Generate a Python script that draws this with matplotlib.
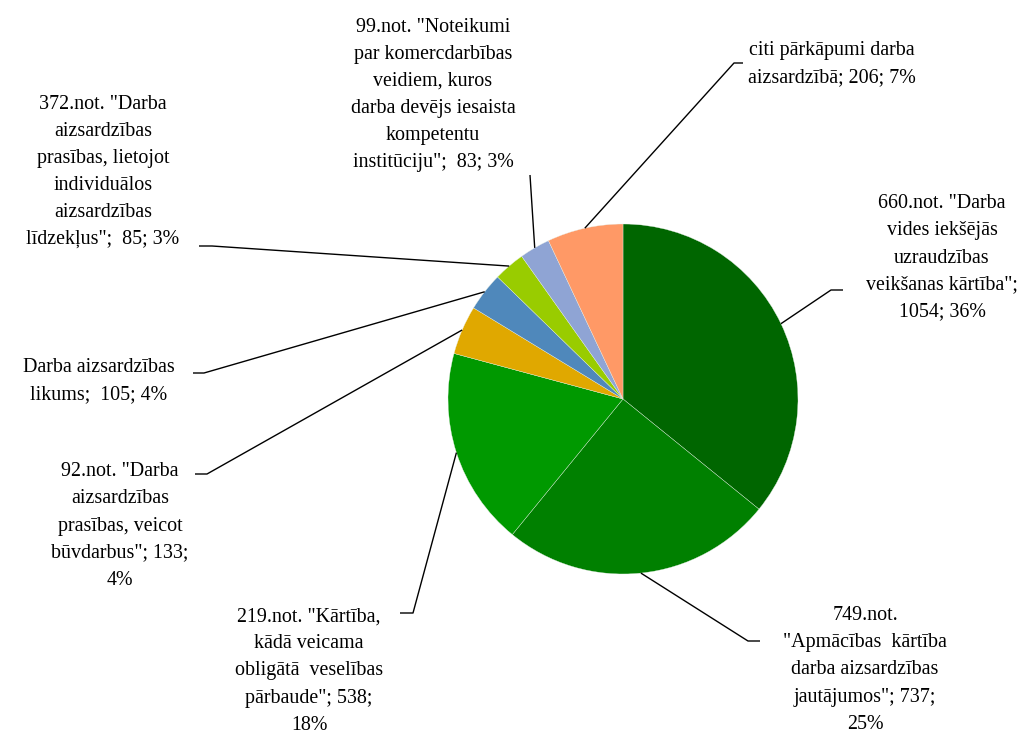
import matplotlib
matplotlib.use("Agg")
import matplotlib.pyplot as plt
import numpy as np

# ---- data ----
labels = [
    '660.not. "Darba\nvides iekšējās\nuzraudzības\nveikšanas kārtība";\n1054; 36%',
    '749.not.\n"Apmācības  kārtība\ndarba aizsardzības\njautājumos"; 737;\n25%',
    '219.not. "Kārtība,\nkādā veicama\nobligātā  veselības\npārbaude"; 538;\n18%',
    '92.not. "Darba\naizsardzības\nprasības, veicot\nbūvdarbus"; 133;\n4%',
    'Darba aizsardzības\nlikums;  105; 4%',
    '372.not. "Darba\naizsardzības\nprasības, lietojot\nindividuālos\naizsardzības\nlīdzekļus";  85; 3%',
    '99.not. "Noteikumi\npar komercdarbības\nveidiem, kuros\ndarba devējs iesaista\nkompetentu\ninstitūciju";  83; 3%',
    'citi pārkāpumi darba\naizsardzībā; 206; 7%',
]
values = [1054, 737, 538, 133, 105, 85, 83, 206]
colors = ['#006600', '#008000', '#009900', '#E0A800', '#4F88BB',
          '#99CC00', '#8FA4D4', '#FF9966']

W, H = 1035, 735
fig = plt.figure(figsize=(W / 100, H / 100), dpi=100)
ax = fig.add_axes([0, 0, 1, 1])

def Y(py):
    return H - py

cx, cy, r = 623, Y(399), 175
wedges, _ = ax.pie(values, colors=colors, startangle=90, counterclock=False,
                   center=(cx, cy), radius=r, frame=True,
                   wedgeprops=dict(edgecolor='#e8f0e8', linewidth=0.25))
ax.set_xlim(0, W)
ax.set_ylim(0, H)
ax.set_aspect('equal')
ax.axis('off')

# layout: text center (px), leader elbow (px), leader end (px)
layout = [
    ((942, 258), (831, 290), (843, 290)),
    ((865, 670), (748, 641), (760, 641)),
    ((309, 671), (413, 613), (400, 613)),
    ((120, 526), (207, 474), (195, 474)),
    ((99, 381), (204, 373), (193, 373)),
    ((103, 172), (212, 246), (199, 246)),
    ((433, 95), (530, 175), (530, 175)),
    ((832, 64), (734, 63), (743, 63)),
]

font = dict(family=['Liberation Serif', 'DejaVu Serif'], size=14.4)
for w, lab, (tc, elbow, end) in zip(wedges, labels, layout):
    mid = np.deg2rad((w.theta1 + w.theta2) / 2)
    ex, ey = cx + r * np.cos(mid), cy + r * np.sin(mid)
    ax.plot([ex, elbow[0], end[0]], [ey, Y(elbow[1]), Y(end[1])],
            color='black', lw=1.0, solid_capstyle='butt')
    ax.text(tc[0], Y(tc[1]), lab, ha='center', va='center',
            multialignment='center', linespacing=1.575, color='black', **font)

fig.savefig('out.png', dpi=100, facecolor='white')
